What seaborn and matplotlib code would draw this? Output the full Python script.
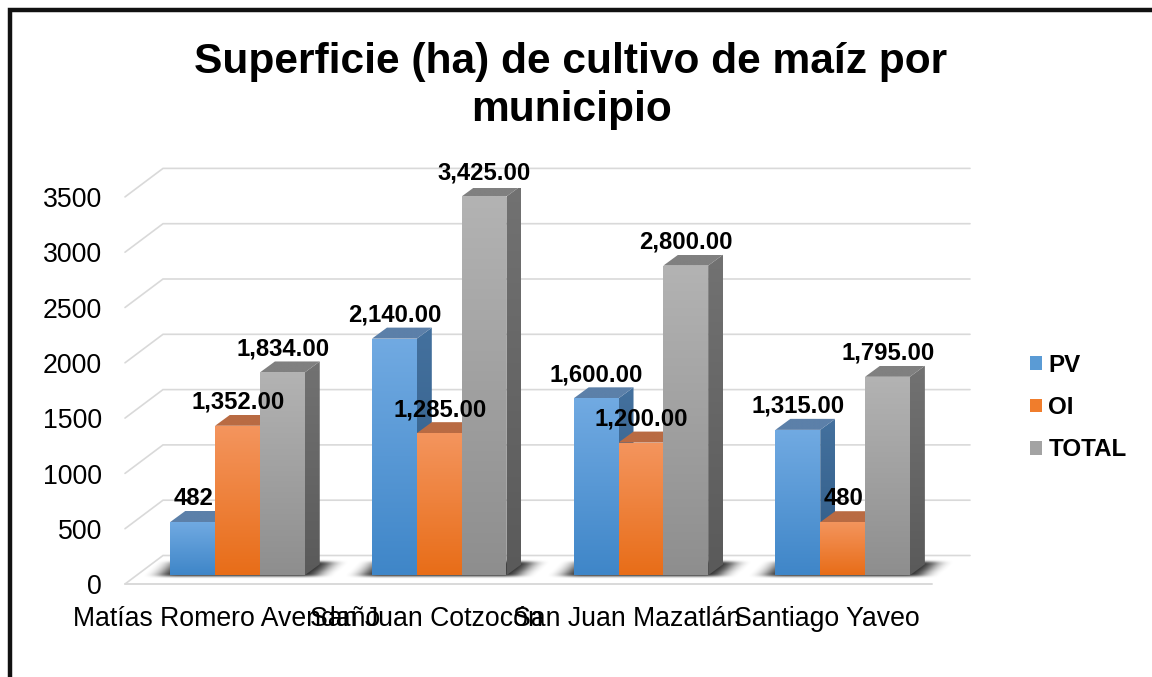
import numpy as np
import pandas as pd
import matplotlib
matplotlib.use("Agg")
import matplotlib.pyplot as plt
import seaborn as sns
from matplotlib.colors import LinearSegmentedColormap
from matplotlib.lines import Line2D
from matplotlib.patches import Polygon
from matplotlib.transforms import Affine2D

TITLE = "Superficie (ha) de cultivo de maíz por\nmunicipio"
MUNICIPIOS = ["Matías Romero Avendaño", "San Juan Cotzocón", "San Juan Mazatlán", "Santiago Yaveo"]
SERIES = ["PV", "OI", "TOTAL"]
PV = [482, 2140, 1600, 1315]
OI = [1352, 1285, 1200, 480]
TOTAL = [1834, 3425, 2800, 1795]
PV_LABELS = ["482", "2,140.00", "1,600.00", "1,315.00"]
OI_LABELS = ["1,352.00", "1,285.00", "1,200.00", "480"]
TOTAL_LABELS = ["1,834.00", "3,425.00", "2,800.00", "1,795.00"]
Y_TICKS = [0, 500, 1000, 1500, 2000, 2500, 3000, 3500]

W, H = 1152, 677
AX_L, AX_R, AX_B, AX_T = 136.65, 943.5, 575.3, 188.2
PX_X = (AX_R - AX_L) / 4.0      # pixels per category
PX_Y = (AX_B - AX_T) / 3500.0   # pixels per value unit


def dx(px):
    return px / PX_X


def dy(px):
    return px / PX_Y


def xdata(px):
    return (px - AX_L) / PX_X - 0.5


def xpx(x):
    return AX_L + (x + 0.5) * PX_X


sns.set_theme(style="white")
plt.rcParams["font.family"] = ["Liberation Sans", "DejaVu Sans"]

df = pd.DataFrame({"municipio": MUNICIPIOS, "PV": PV, "OI": OI, "TOTAL": TOTAL}).melt(
    id_vars="municipio", var_name="serie", value_name="ha"
)

fig = plt.figure(figsize=(W / 100, H / 100), dpi=100, facecolor="white")
ax = fig.add_axes([AX_L / W, 1 - AX_B / H, (AX_R - AX_L) / W, (AX_B - AX_T) / H])
ax.patch.set_alpha(0)

palette = {"PV": "#5A9BD5", "OI": "#F07D2C", "TOTAL": "#A3A3A3"}
sns.barplot(data=df, x="municipio", y="ha", hue="serie", order=MUNICIPIOS, hue_order=SERIES,
            palette=palette, saturation=1, width=2 / 3, gap=0, ax=ax, zorder=5, linewidth=0)

FACES = {
    "PV": {"front": ("#71AAE2", "#3F86C8"), "side": ("#44719E", "#2F5A85"), "top": ("#5C80A9", "#5C80A9")},
    "OI": {"front": ("#F4955E", "#E86D18"), "side": ("#B5612F", "#A04F1D"), "top": ("#B96B43", "#B96B43")},
    "TOTAL": {"front": ("#B3B3B3", "#8E8E8E"), "side": ("#727272", "#5A5A5A"), "top": ("#808080", "#808080")},
}
DEPTH_X, DEPTH_Y = dx(15), dy(11)


def shaded(verts, colors, z):
    verts = np.array(verts)
    cmap = LinearSegmentedColormap.from_list("f", list(colors))
    extent = (verts[:, 0].min(), verts[:, 0].max(), verts[:, 1].min(), verts[:, 1].max())
    im = ax.imshow(np.linspace(0, 1, 128).reshape(-1, 1), cmap=cmap, extent=extent, origin="upper",
                   aspect="auto", interpolation="bilinear", zorder=z)
    clip = Polygon(verts, closed=True, transform=ax.transData)
    im.set_clip_path(clip)


def blur(a, size, axis):
    kernel = np.ones(size) / size
    return np.apply_along_axis(lambda r: np.convolve(r, kernel, mode="same"), axis, a)


def floor_shadow(left, right):
    lp, rp = xpx(left), xpx(right)
    xs = np.arange(lp - 60, rp + 80)
    ys = np.arange(AX_B - 25, AX_B + 10)
    gx, gy = np.meshgrid(xs, ys)
    top, bottom = AX_B - 13.5, AX_B + 1
    t = (gy - top) / (bottom - top)
    xl = (lp + 4) * (1 - t) + (lp - 10) * t
    xr = (rp + 28) * (1 - t) + (rp + 12) * t
    mask = ((gy >= top) & (gy <= bottom) & (gx >= xl) & (gx <= xr)).astype(float)
    for _ in range(2):
        mask = blur(mask, 19, 1)
        mask = blur(mask, 3, 0)
    rgba = np.zeros(mask.shape + (4,))
    rgba[..., 3] = mask * 0.85
    ax.imshow(rgba, extent=(xdata(xs[0]), xdata(xs[-1]), (AX_B - ys[-1]) / PX_Y, (AX_B - ys[0]) / PX_Y),
              origin="upper", aspect="auto", interpolation="bilinear", zorder=2, clip_on=False)


# back wall, side wall and floor lines
GRID = "#D9D9D9"
wall_l, wall_r = xdata(163), xdata(970)
front_l, front_r = xdata(125), xdata(932)
BACK_UP, FRONT_DOWN = dy(19.8), dy(8.7)
for v in Y_TICKS:
    ax.plot([front_l, wall_l, wall_r], [v - FRONT_DOWN, v + BACK_UP, v + BACK_UP],
            color=GRID, lw=1.2, clip_on=False, zorder=1, solid_joinstyle="miter")
ax.plot([front_l, front_r], [-FRONT_DOWN, -FRONT_DOWN], color=GRID, lw=1.4, clip_on=False, zorder=1)

# soft shadow cast on the floor behind each group
for c in range(len(MUNICIPIOS)):
    floor_shadow(c - 1 / 3, c + 1 / 3)

# extruded bars, built on seaborn's bars
labels_by_series = {"PV": PV_LABELS, "OI": OI_LABELS, "TOTAL": TOTAL_LABELS}
for s_i, (serie, container) in enumerate(zip(SERIES, ax.containers)):
    for c_i, bar in enumerate(container):
        x0, x1, v = bar.get_x(), bar.get_x() + bar.get_width(), bar.get_height()
        z = 5 + s_i
        bar.set_zorder(z + 0.2)
        face = FACES[serie]
        shaded([(x1, 0), (x1 + DEPTH_X, DEPTH_Y), (x1 + DEPTH_X, v + DEPTH_Y), (x1, v)], face["side"], z)
        shaded([(x0, v), (x0 + DEPTH_X, v + DEPTH_Y), (x1 + DEPTH_X, v + DEPTH_Y), (x1, v)], face["top"], z + 0.1)
        shaded([(x0, 0), (x1, 0), (x1, v), (x0, v)], face["front"], z + 0.3)
        ax.text((x0 + x1) / 2 + dx(0.5), v + dy(23.5), labels_by_series[serie][c_i], ha="center", va="center",
                fontsize=17.2, fontweight="bold", color="black", zorder=20, clip_on=False)

ax.set_xlim(-0.5, 3.5)
ax.set_ylim(0, 3500)
ax.set_xlabel("")
ax.set_ylabel("")
ax.set_yticks(Y_TICKS)
ax.set_yticklabels([str(v) for v in Y_TICKS])
ax.tick_params(axis="y", length=0, pad=24.9, labelsize=19.2, labelcolor="black")
ax.tick_params(axis="x", length=0, pad=22.3, labelsize=19.2, labelcolor="black")
sns.despine(ax=ax, left=True, bottom=True)
for lab in ax.get_yticklabels():
    lab.set_transform(lab.get_transform() + Affine2D().translate(0, -9))
for i, lab in enumerate(ax.get_xticklabels()):
    lab.set_transform(lab.get_transform() + Affine2D().translate(-11 - 1.6 * i, 0))

handles, names = ax.get_legend_handles_labels()
leg = ax.legend(handles, names, loc="upper left", bbox_to_anchor=(1025.5 / W, 1 - 349 / H),
                bbox_transform=fig.transFigure, frameon=False, fontsize=17.4,
                handlelength=0.5, handleheight=0.5, handletextpad=0.25,
                labelspacing=0.8, borderpad=0.2, borderaxespad=0)
for t in leg.get_texts():
    t.set_fontweight("bold")
    t.set_color("black")

fig.text(571 / W, 1 - 86 / H, TITLE, ha="center", va="center", fontsize=30.6, fontweight="bold",
         color="black", linespacing=1.25)

fig.add_artist(Line2D([10 / W, 10 / W, 1], [0, 1 - 10 / H, 1 - 10 / H], color="#111111", lw=3.2,
                      solid_joinstyle="miter"))

fig.savefig("out.png", dpi=100, facecolor="white")
